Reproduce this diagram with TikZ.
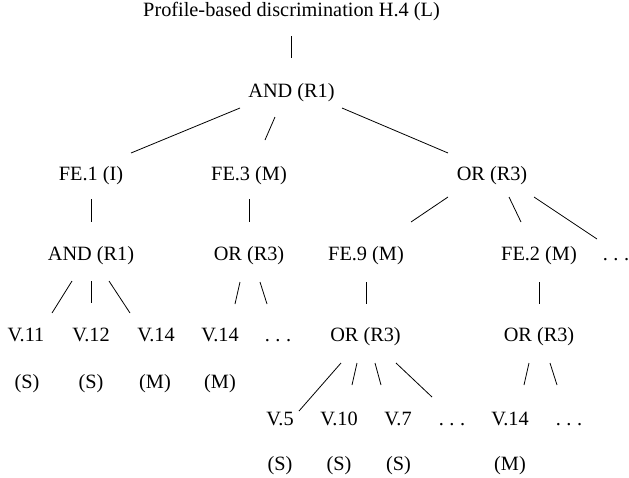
\documentclass[tikz,border=0pt]{standalone}
\usepackage{fontspec}
\setmainfont{Liberation Serif}
\usetikzlibrary{calc}
\newcommand\conn[6]{\draw[edge] ($(#1)+(#3,#4)$) -- ($(#2)+(#5,#6)$);}
\newcommand\tdots{.\kern5.6pt.\kern5.6pt.}
\begin{document}
\begin{tikzpicture}[x=1pt,y=-1pt,
  lbl/.style={inner sep=0pt, text height=14pt, text depth=4pt, font=\fontsize{20.3}{24}\selectfont},
  edge/.style={line width=0.8pt}]
\useasboundingbox (0,0) rectangle (629,477);
% level 0
\node[lbl] (root) at (291.5,11.5) {Profile-based discrimination H.4 (L)};
% level 1
\node[lbl] (and1) at (291.5,92) {AND (R1)};
% level 2
\node[lbl] (fe1) at (91,175) {FE.1 (I)};
\node[lbl] (fe3) at (249,175) {FE.3 (M)};
\node[lbl] (or1) at (492,175) {OR (R3)};
% level 3
\node[lbl] (and2) at (91,255.5) {AND (R1)};
\node[lbl] (or2) at (249,255.5) {OR (R3)};
\node[lbl] (fe9) at (366,255.5) {FE.9 (M)};
\node[lbl] (fe2) at (539,255.5) {FE.2 (M)};
\node[lbl] (dots1) at (616,255.5) {\tdots};
% level 4
\node[lbl] (v11) at (26,336) {V.11};
\node[lbl] (v12) at (91,336) {V.12};
\node[lbl] (v14a) at (156,336) {V.14};
\node[lbl] (v14b) at (220,336) {V.14};
\node[lbl] (dots2) at (278,336) {\tdots};
\node[lbl] (or3) at (365.5,336) {OR (R3)};
\node[lbl] (or4) at (539,336) {OR (R3)};
% level 5
\node[lbl] (v11s) at (27,383) {(S)};
\node[lbl] (v12s) at (91,383) {(S)};
\node[lbl] (v14as) at (155,383) {(M)};
\node[lbl] (v14bs) at (220,383) {(M)};
% level 6
\node[lbl] (v5) at (280,420) {V.5};
\node[lbl] (v10) at (339,420) {V.10};
\node[lbl] (v7) at (398,420) {V.7};
\node[lbl] (dots3) at (452,420) {\tdots};
\node[lbl] (v14c) at (510,420) {V.14};
\node[lbl] (dots4) at (569,420) {\tdots};
% level 7
\node[lbl] (v5s) at (280,465) {(S)};
\node[lbl] (v10s) at (339,465) {(S)};
\node[lbl] (v7s) at (398.5,465) {(S)};
\node[lbl] (v14cs) at (510,465) {(M)};
% connectors
\conn{root}{and1}{0}{24.5}{0}{-34}
\conn{and1}{fe1}{-51.5}{16}{40}{-22}
\conn{and1}{fe3}{-16.5}{25}{16}{-35}
\conn{and1}{or1}{50.5}{16}{-44}{-22}
\conn{fe1}{and2}{0}{24}{0}{-33.5}
\conn{fe3}{or2}{0}{24}{0}{-33.5}
\conn{or1}{fe9}{-44}{22}{45}{-33.5}
\conn{or1}{fe2}{17}{22}{-18}{-33.5}
\conn{or1}{dots1}{42}{22}{-19}{-16.5}
\conn{and2}{v11}{-19}{25.5}{26}{-23}
\conn{and2}{v12}{0}{25.5}{0}{-33}
\conn{and2}{v14a}{18}{25.5}{-26}{-23}
\conn{or2}{v14b}{-9}{26.5}{15}{-32}
\conn{or2}{dots2}{11}{26.5}{-11}{-32}
\conn{fe9}{or3}{0}{26.5}{0.5}{-32}
\conn{fe2}{or4}{0}{26.5}{0}{-32}
\conn{or3}{v5}{-24.5}{27}{19}{-9}
\conn{or3}{v10}{-8.5}{27}{13}{-35}
\conn{or3}{v7}{9.5}{27}{-17}{-35}
\conn{or3}{dots3}{30.5}{27}{-20}{-23}
\conn{or4}{v14c}{-10}{27}{14}{-35}
\conn{or4}{dots4}{11}{27}{-12}{-35}
\end{tikzpicture}
\end{document}
